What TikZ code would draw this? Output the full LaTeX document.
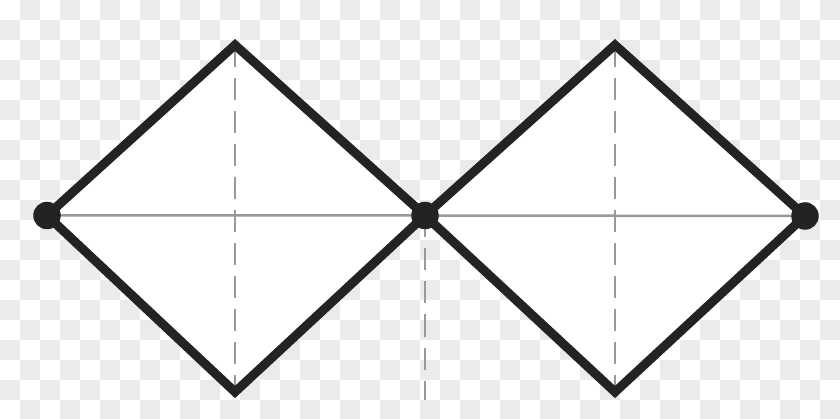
\documentclass[tikz,border=0pt]{standalone}
\definecolor{chk}{HTML}{EBEBEB}
\definecolor{ink}{HTML}{232323}
\definecolor{guide}{HTML}{999999}
\begin{document}
\begin{tikzpicture}[x=1pt,y=-1pt,
  edge/.style={line width=9pt, draw=ink, line join=miter},
  guideline/.style={line width=2.5pt, draw=guide},
  dashguide/.style={line width=2.8pt, draw=guide, dash pattern=on 22pt off 11pt},
  dot/.style={circle, fill=ink, inner sep=0pt, minimum size=27.5pt}]
\useasboundingbox (0,0) rectangle (840,419);
\fill[white] (0,0) rectangle (840,419);
\begin{scope}
\clip (0,0) rectangle (840,419);
\foreach \i in {0,...,41} {
  \foreach \j in {0,...,20} {
    \pgfmathtruncatemacro\parityval{mod(\i+\j,2)}
    \ifnum\parityval=1 \fill[chk] (\i*20,\j*20) rectangle ++(20,20); \fi
  }
}
\end{scope}
% vertices
\coordinate (L) at (47,215.5);
\coordinate (C) at (425,215.5);
\coordinate (R) at (805,216);
\coordinate (T1) at (235,45);
\coordinate (B1) at (235,392);
\coordinate (T2) at (615,45);
\coordinate (B2) at (615,392);
\coordinate (Cend) at (425,400);
% white diamond faces
\fill[white] (L) -- (T1) -- (C) -- (B1) -- cycle;
\fill[white] (C) -- (T2) -- (R) -- (B2) -- cycle;
% guide lines
\draw[guideline] (L) -- (C) -- (R);
\draw[dashguide] (T1) -- (B1);
\draw[dashguide] (T2) -- (B2);
\draw[dashguide] (C) -- (Cend);
% thick edges
\draw[edge] (L) -- (T1) -- (C) -- (B1) -- cycle;
\draw[edge] (C) -- (T2) -- (R) -- (B2) -- cycle;
% dots
\node[dot] (Ldot) at (L) {};
\node[dot] (Cdot) at (C) {};
\node[dot] (Rdot) at (R) {};
\end{tikzpicture}
\end{document}
